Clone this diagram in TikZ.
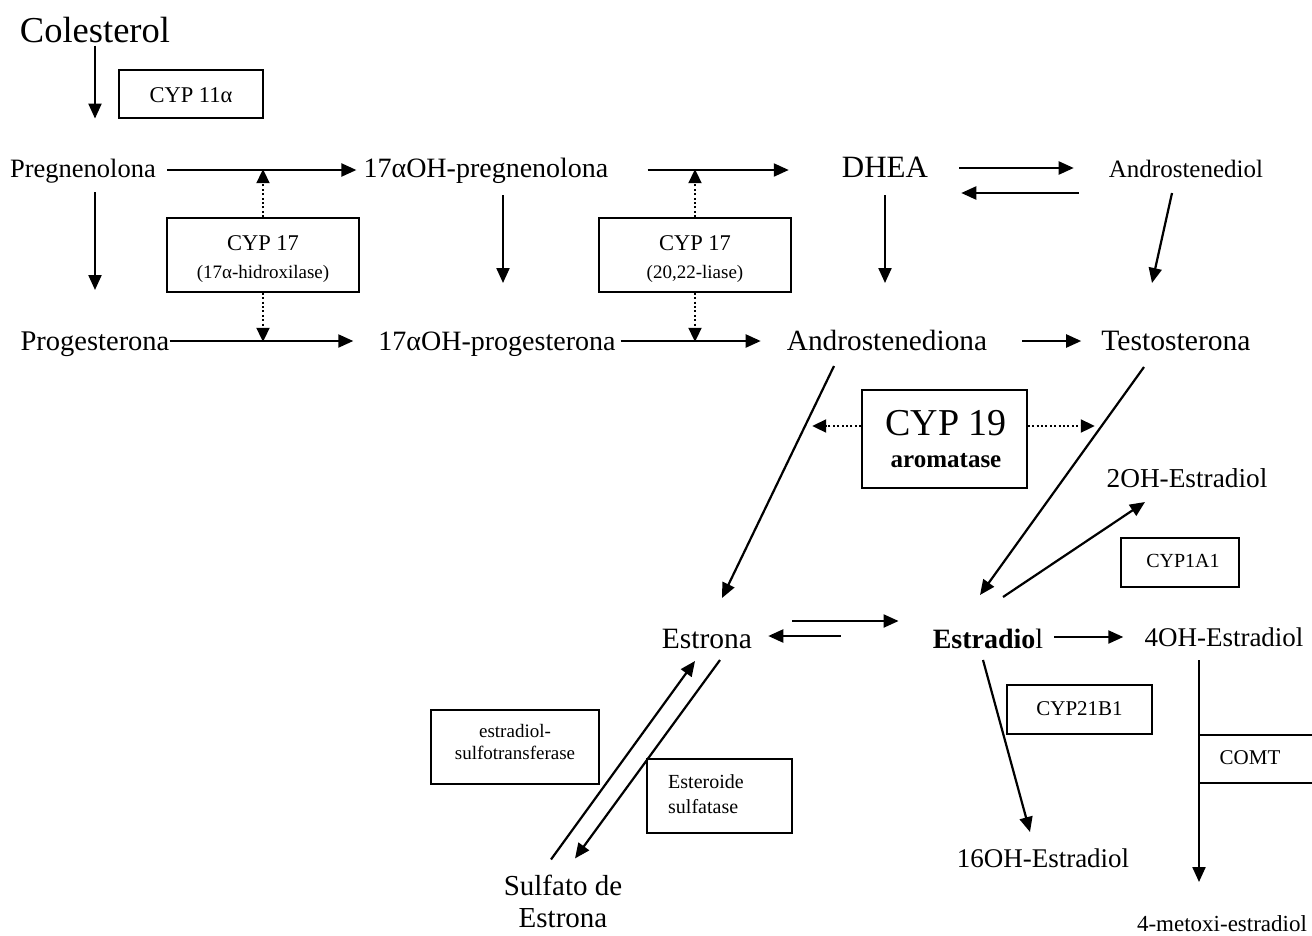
\documentclass[tikz,border=0pt]{standalone}
\usepackage{fontspec}
\setmainfont{Liberation Serif}
\usetikzlibrary{arrows.meta}
\begin{document}
\begin{tikzpicture}[x=1pt,y=-1pt,
  lbl/.style={inner sep=0pt,anchor=base,font=\fontsize{26.5}{28}\selectfont},
  fs/.style={font=\fontsize{#1}{#1}\selectfont},
  boxtxt/.style={inner sep=0pt,anchor=base},
  box/.style={draw,line width=1.6pt,inner sep=0pt},
  arr/.style={line width=2.2pt,-{Triangle[length=15pt,width=13pt]}},
  dotarr/.style={line width=2pt,dash pattern=on 2pt off 2.4pt,-{Triangle[length=14pt,width=13pt]}}]
\useasboundingbox (0,0) rectangle (1312,935);
% metabolites
\node[lbl,fs=36.5] (col) at (95,42) {Colesterol};
\node[lbl,fs=26.5] (preg) at (83,177) {Pregnenolona};
\node[lbl,fs=28] (ohpreg) at (486,177) {17αOH-pregnenolona};
\node[lbl,fs=31] (dhea) at (885,177) {DHEA};
\node[lbl,fs=25] (adiol) at (1186,177) {Androstenediol};
\node[lbl,fs=28.5] (prog) at (95,350) {Progesterona};
\node[lbl,fs=28] (ohprog) at (497,350) {17αOH-progesterona};
\node[lbl,fs=29.3] (adione) at (887,350) {Androstenediona};
\node[lbl,fs=29.6] (testo) at (1176,350) {Testosterona};
\node[lbl,fs=27.3] (twooh) at (1187,487) {2OH-Estradiol};
\node[lbl,fs=29.5] (estrona) at (707,648) {Estrona};
\node[lbl,fs=28] (estradiol) at (988,648) {\textbf{Estradio}l};
\node[lbl,fs=27] (fouroh) at (1224,646) {4OH-Estradiol};
\node[lbl,fs=27] (sixteenoh) at (1043,867) {16OH-Estradiol};
\node[lbl,fs=23] (metoxi) at (1222,931) {4-metoxi-estradiol};
\node[lbl,align=center,anchor=center,font=\fontsize{29}{32}\selectfont] (sulfato) at (563,901) {Sulfato de\\Estrona};
% enzyme boxes
\node[box,minimum width=144pt,minimum height=48pt] (cyp11) at (191,94) {};
\node[boxtxt,fs=22.5] at (191,102) {CYP 11α};
\node[box,minimum width=192pt,minimum height=74pt] (cyp17a) at (263,255) {};
\node[boxtxt,fs=22.5] at (263,250) {CYP 17};
\node[boxtxt,fs=19] at (263,278) {(17α-hidroxilase)};
\node[box,minimum width=192pt,minimum height=74pt] (cyp17b) at (695,255) {};
\node[boxtxt,fs=22.5] at (695,250) {CYP 17};
\node[boxtxt,fs=19] at (695,278) {(20,22-liase)};
\node[box,minimum width=165pt,minimum height=98pt] (cyp19) at (944.5,439) {};
\node[boxtxt,fs=38] at (946,435) {CYP 19};
\node[boxtxt,font=\fontsize{25}{26}\selectfont\bfseries] at (946,467) {aromatase};
\node[box,minimum width=118pt,minimum height=49pt] (cyp1a1) at (1180,562.5) {};
\node[boxtxt,fs=20] at (1183,567) {CYP1A1};
\node[box,minimum width=145pt,minimum height=49pt] (cyp21) at (1079.5,709.5) {};
\node[boxtxt,fs=21] at (1079.5,715) {CYP21B1};
\coordinate (comtA) at (1199,735);
\coordinate (comtB) at (1312,735);
\coordinate (comtC) at (1199,783);
\coordinate (comtD) at (1312,783);
\draw[line width=1.6pt] (comtA) -- (comtB) (comtC) -- (comtD);
\node[boxtxt,fs=21] (comt) at (1250,764) {COMT};
\node[box,minimum width=168pt,minimum height=74pt] (sulfot) at (515,747) {};
\node[boxtxt,fs=19] at (515,737) {estradiol-};
\node[boxtxt,fs=19] at (515,759) {sulfotransferase};
\node[box,minimum width=145pt,minimum height=74pt] (sulfat) at (719.5,796) {};
\node[boxtxt,anchor=base west,fs=20] at (668,788) {Esteroide};
\node[boxtxt,anchor=base west,fs=20] at (668,813) {sulfatase};
% connectors
\draw[arr] ([yshift=-3pt]col.south) -- ++(0,73);
\draw[arr] ([xshift=11pt,yshift=7pt]preg.base east) -- ([xshift=-7pt,yshift=7pt]ohpreg.base west);
\draw[arr] ([xshift=39pt,yshift=7pt]ohpreg.base east) -- ([xshift=-53pt,yshift=7pt]dhea.base west);
\draw[arr] ([xshift=31pt,yshift=9pt]dhea.base east) -- ([xshift=-35pt,yshift=9pt]adiol.base west);
\draw[arr] ([xshift=-30pt,yshift=-16pt]adiol.base west) -- ([xshift=33pt,yshift=-16pt]dhea.base east);
\draw[arr] ([xshift=-14pt,yshift=-16pt]adiol.base) -- ([xshift=-24pt,yshift=67pt]testo.base);
\draw[arr] ([xshift=12pt,yshift=-15pt]preg.base) -- ([yshift=60pt]prog.base);
\draw[arr] ([yshift=9pt]prog.base east) -- ([xshift=-25pt,yshift=9pt]ohprog.base west);
\draw[arr] ([xshift=17pt,yshift=-18pt]ohpreg.base) -- ([xshift=6pt,yshift=67pt]ohprog.base);
\draw[arr] ([xshift=5pt,yshift=9pt]ohprog.base east) -- ([xshift=-26pt,yshift=9pt]adione.base west);
\draw[arr] ([yshift=-18pt]dhea.base) -- ([xshift=-2pt,yshift=67pt]adione.base);
\draw[arr] ([xshift=35pt,yshift=9pt]adione.base east) -- ([xshift=-20pt,yshift=9pt]testo.base west);
\draw[arr] ([xshift=-53pt,yshift=-16pt]adione.base) -- ([xshift=15pt,yshift=50pt]estrona.base);
\draw[arr] ([xshift=-32pt,yshift=-17pt]testo.base) -- ([xshift=-8pt,yshift=53pt]estradiol.base);
\draw[arr] ([xshift=15pt,yshift=51pt]estradiol.base) -- ([xshift=-42pt,yshift=-15pt]twooh.base);
\draw[arr] ([xshift=40pt,yshift=27pt]estrona.base east) -- ([xshift=-34pt,yshift=27pt]estradiol.base west);
\draw[arr] ([xshift=-92pt,yshift=12pt]estradiol.base west) -- ([xshift=16pt,yshift=12pt]estrona.base east);
\draw[arr] ([xshift=11pt,yshift=11pt]estradiol.base east) -- ([xshift=-21pt,yshift=9pt]fouroh.base west);
\draw[arr] ([xshift=-25pt,yshift=-14pt]fouroh.base) -- ([xshift=-23pt,yshift=49pt]metoxi.base);
\draw[arr] ([xshift=-5pt,yshift=-12pt]estradiol.base) -- ([xshift=-13pt,yshift=35pt]sixteenoh.base);
\draw[arr] ([xshift=-12pt,yshift=15pt]sulfato.north) -- ([xshift=-12pt,yshift=-13pt]estrona.base);
\draw[arr] ([xshift=13pt,yshift=-12pt]estrona.base) -- ([xshift=12pt,yshift=16pt]sulfato.north);
% dotted enzyme arrows
\draw[dotarr] (cyp17a.north) -- ++(0,-48);
\draw[dotarr] (cyp17a.south) -- ++(0,49);
\draw[dotarr] (cyp17b.north) -- ++(0,-48);
\draw[dotarr] (cyp17b.south) -- ++(0,49);
\draw[dotarr] ([yshift=13pt]cyp19.west) -- ++(-49,0);
\draw[dotarr] ([yshift=13pt]cyp19.east) -- ++(67,0);
\end{tikzpicture}
\end{document}
